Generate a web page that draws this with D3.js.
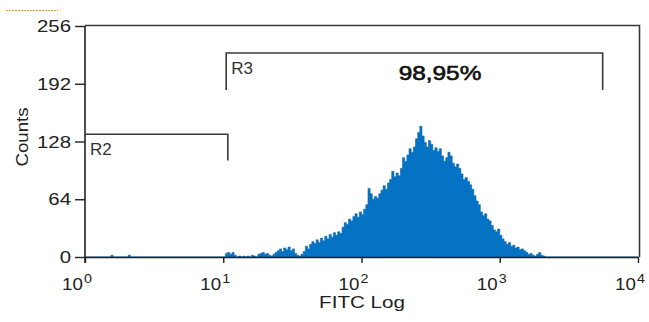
<!DOCTYPE html>
<html>
<head>
<meta charset="utf-8">
<script src="https://d3js.org/d3.v7.min.js"></script>
<style>
  html, body { margin: 0; padding: 0; background: #fff; }
  svg { display: block; font-family: "Liberation Sans", Arial, sans-serif; }
</style>
</head>
<body>
<div id="chart"></div>
<script>
// 256 log channels spanning 10^0 .. 10^4
const channelCount = 256;
const decades = 4;

// counts per channel (index = channel)
const counts = [
  0,0,0,0,0,0,0,0,0,0, 0,0,2,0,0,0,0,0,0,0,   // 0-19
  2,0,0,0,0,0,0,0,0,0, 0,0,0,0,0,0,0,0,0,0,   // 20-39
  0,0,0,0,0,0,0,0,0,0, 0,0,0,0,0,0,0,0,0,0,   // 40-59
  0,0,0,0,0,4,5,3,5,2, 0,1,0,1,0,1,0,2,1,0,   // 60-79
  3,4,5,3,4,2,1,3,5,7, 9,6,10,8,11,7,9,4,2,1, // 80-99
  3,6,12,9,14,17,15,19,16,21, 18,23,20,25,22,27,24,28,26,33, // 100-119
  38,36,42,40,45,48,44,50,47,53, 58,76,70,64,67,65,70,74,79,75, // 120-139
  82,86,95,89,93,90,98,110,106,113, 120,116,122,131,138,145,134,127,122,129, // 140-159
  125,118,121,117,120,112,106,110,116,112, 104,100,103,98,92,86,88,84,80,75, // 160-179
  68,62,58,50,46,48,42,40,35,30, 28,31,24,20,17,14,16,12,13,10, // 180-199
  11,8,9,7,5,3,4,2,1,3, 5,2,1,0,0,0,0,0,0,0,  // 200-219
  0,0,0,0,0,0,0,0,0,0, 0,0,0,0,0,0,0,0,0,0,   // 220-239
  0,0,0,0,0,0,0,0,0,0, 0,0,0,0,0,0            // 240-255
];

const yTicks = [0, 64, 128, 192, 256];
const yTickLabels = ['0', '64', '128', '192', '256'];
const xTicks = [1, 10, 100, 1000, 10000];
const xTickExp = ['0', '1', '2', '3', '4'];

// gates: [from, to] in FITC units, level in counts
const gateNames = ['R2', 'R3'];
const gateFrom = [1, 10.5];
const gateTo = [10.8, 5550];
const gateLevel = [136, 226];
const gateDrop = [29, 41];   // length of the end marker, in counts
const gatePercent = ['', '98,95%'];

const width = 649, height = 322;
const plotLeft = 85, plotRight = 638, plotTop = 26, plotBottom = 257;

const svg = d3.select('#chart').append('svg')
  .attr('width', width)
  .attr('height', height);

const x = d3.scaleLog().domain([1, 10000]).range([plotLeft, plotRight]);
const y = d3.scaleLinear().domain([0, 256]).range([plotBottom, plotTop]);

// text that is a bit wider than the plain font
function label(px, py, str, size, sx, anchor) {
  return svg.append('text')
    .attr('transform', `translate(${px},${py}) scale(${sx},1)`)
    .attr('text-anchor', anchor || 'start')
    .style('font-size', size + 'px')
    .style('fill', '#222')
    .text(str);
}

// little dotted line at the very top left
svg.append('line')
  .attr('x1', 6).attr('x2', 58).attr('y1', 10.5).attr('y2', 10.5)
  .style('stroke', '#d49a5e')
  .style('stroke-width', 1)
  .style('stroke-dasharray', '2,1');

// histogram
const bins = counts.map((c, i) => ({
  x0: Math.pow(10, decades * i / channelCount),
  count: c
}));
bins.push({ x0: Math.pow(10, decades), count: 0 });

const area = d3.area()
  .x(d => x(d.x0))
  .y0(y(0))
  .y1(d => y(d.count))
  .curve(d3.curveStepAfter);

svg.append('path')
  .datum(bins)
  .attr('d', area)
  .style('fill', '#0672c4')
  .style('stroke', '#0a66ad')
  .style('stroke-width', 0.6);

// frame (top + right)
svg.append('path')
  .attr('d', `M${plotLeft},${plotTop - 0.5}H${plotRight + 1.5}V${plotBottom}`)
  .style('fill', 'none')
  .style('stroke', '#3a3a3a')
  .style('stroke-width', 1.6);

// axes
const xAxis = d3.axisBottom(x)
  .tickValues(xTicks)
  .tickSize(6)
  .tickSizeOuter(0)
  .tickFormat(() => '');

const gx = svg.append('g')
  .attr('transform', `translate(0,${plotBottom})`)
  .call(xAxis);
gx.select('.domain').style('stroke', '#222').style('stroke-width', 1.6);
gx.selectAll('.tick line').style('stroke', '#222').style('stroke-width', 1.4);

xTicks.forEach((t, i) => {
  const tx = label(x(t) - 8, 290, '', 17, 1.1, 'middle');
  tx.append('tspan').text('10');
  tx.append('tspan')
    .attr('dy', -7)
    .attr('dx', 1)
    .style('font-size', '13px')
    .text(xTickExp[i]);
});

const yAxis = d3.axisLeft(y)
  .tickValues(yTicks)
  .tickSize(10)
  .tickSizeOuter(0)
  .tickFormat(() => '');

const gy = svg.append('g')
  .attr('transform', `translate(${plotLeft},0)`)
  .call(yAxis);
gy.select('.domain')
  .attr('d', `M0,${plotTop}V${plotBottom + 6}`)
  .style('stroke', '#222').style('stroke-width', 1.6);
gy.selectAll('.tick line').style('stroke', '#222').style('stroke-width', 1.4);

yTicks.forEach((t, i) => {
  label(71, y(t) + 6, yTickLabels[i], 17, 1.2, 'end');
});

// axis titles
label(362, 308, 'FITC Log', 16.5, 1.25, 'middle');

svg.append('text')
  .attr('transform', 'translate(28,137) rotate(-90) scale(1.1,1)')
  .attr('text-anchor', 'middle')
  .style('font-size', '17px')
  .style('fill', '#222')
  .text('Counts');

// gates
gateNames.forEach((name, i) => {
  const x0 = x(gateFrom[i]), x1 = x(gateTo[i]);
  const gy0 = y(gateLevel[i]);
  const drop = y(gateLevel[i] - gateDrop[i]);
  const startDrop = i === 0 ? gy0 : drop;
  svg.append('path')
    .attr('d', `M${x0},${startDrop}V${gy0}H${x1}V${drop}`)
    .style('fill', 'none')
    .style('stroke', '#3a3a3a')
    .style('stroke-width', 1.6);
  label(x0 + 5, gy0 + 21, name, 17, 1, 'start').style('fill', '#333');
  if (gatePercent[i]) {
    label(440, gy0 + 27, gatePercent[i], 20, 1.22, 'middle')
      .style('fill', '#111')
      .style('stroke', '#111')
      .style('stroke-width', 0.6);
  }
});
</script>
</body>
</html>
